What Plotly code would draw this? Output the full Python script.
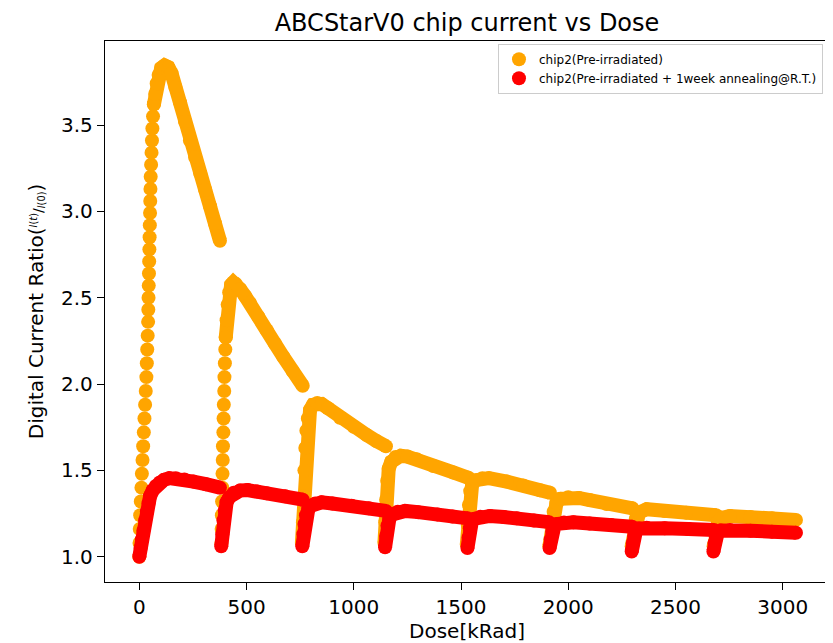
import plotly.graph_objects as go

# ---------------- data ----------------
# Discrete, visibly separated dots of the two first steep orange rises
orange_rise_dose = [0, 1, 2, 4, 7, 10, 12, 15, 18, 21, 24, 27, 30, 33, 35, 37, 39, 41, 42, 43, 44,
                    45, 46, 47, 48, 49, 50, 51, 52, 53, 55, 57, 59, 61, 64, 68,
                    None,
                    383, 384, 385, 386, 387, 388, 389, 390, 392, 393, 394, 396, 397, 399, 401, 403]
orange_rise_ratio = [1.00, 1.08, 1.16, 1.24, 1.32, 1.40, 1.48, 1.56, 1.64, 1.72, 1.80, 1.88, 1.96, 2.04,
                     2.12, 2.20, 2.28, 2.36, 2.43, 2.50, 2.57, 2.64, 2.71, 2.78, 2.85, 2.92, 2.99, 3.06,
                     3.13, 3.20, 3.27, 3.34, 3.41, 3.48, 3.55, 3.62,
                     None,
                     1.08, 1.16, 1.24, 1.32, 1.40, 1.48, 1.56, 1.64, 1.72, 1.80, 1.88, 1.96, 2.04, 2.12,
                     2.20, 2.27]

# chip2 (Pre-irradiated): dense parts of each irradiation step (None separates steps)
orange_dose = [68, 74, 81, 90, 102, 118, 135, 150, 168, 190, 213, 236, 260, 284, 307, 330, 353, 376,
               None,
               403, 407, 412, 419, 428, 438, 450, 470, 493, 516, 555, 594, 632, 671, 715, 762,
               None,
               758, 763, 767, 770, 774, 779, 786, 796, 810, 830, 850, 880, 936, 1000, 1060, 1105, 1150,
               None,
               1143, 1147, 1151, 1156, 1163, 1175, 1195, 1220, 1250, 1293, 1371, 1464, 1535,
               None,
               1527, 1532, 1537, 1543, 1552, 1570, 1600, 1630, 1713, 1790, 1868, 1915,
               None,
               1912, 1922, 1932, 1945, 1965, 2000, 2050, 2100, 2179, 2300,
               None,
               2296, 2305, 2315, 2330, 2366, 2450, 2550, 2690,
               None,
               2678, 2688, 2698, 2715, 2754, 2850, 2950, 3062]
orange_ratio = [3.62, 3.68, 3.74, 3.79, 3.83, 3.845, 3.835, 3.80, 3.72, 3.63, 3.52, 3.41, 3.315, 3.22,
                3.125, 3.03, 2.93, 2.83,
                None,
                2.27, 2.37, 2.46, 2.53, 2.575, 2.588, 2.58, 2.55, 2.51, 2.47, 2.39, 2.312, 2.235, 2.158,
                2.075, 1.99,
                None,
                1.08, 1.20, 1.35, 1.50, 1.63, 1.73, 1.80, 1.85, 1.88, 1.89, 1.885, 1.86, 1.805, 1.752,
                1.705, 1.67, 1.64,
                None,
                1.08, 1.20, 1.33, 1.44, 1.51, 1.55, 1.578, 1.585, 1.58, 1.565, 1.525, 1.488, 1.457,
                None,
                1.07, 1.18, 1.30, 1.38, 1.42, 1.443, 1.455, 1.455, 1.435, 1.413, 1.385, 1.37,
                None,
                1.06, 1.17, 1.26, 1.31, 1.335, 1.345, 1.34, 1.328, 1.305, 1.28,
                None,
                1.06, 1.15, 1.22, 1.255, 1.275, 1.265, 1.255, 1.24,
                None,
                1.06, 1.14, 1.20, 1.225, 1.236, 1.23, 1.222, 1.213]

# chip2 (Pre-irradiated + 1week annealing@R.T.)
red_dose = [0, 6, 12, 19, 27, 35, 43, 50, 63, 77, 95, 115, 140, 170, 210, 252, 310, 376,
            None,
            382, 387, 392, 398, 407, 420, 440, 470, 505, 550, 594, 680, 762,
            None,
            760, 765, 770, 777, 788, 800, 820, 850, 900, 990, 1070, 1150,
            None,
            1146, 1151, 1157, 1166, 1180, 1205, 1240, 1300, 1390, 1460, 1530,
            None,
            1530, 1535, 1541, 1550, 1565, 1590, 1635, 1700, 1760, 1840, 1910,
            None,
            1913, 1918, 1925, 1935, 1950, 1980, 2024, 2100, 2200, 2298,
            None,
            2296, 2301, 2307, 2316, 2330, 2366, 2450, 2560, 2680,
            None,
            2677, 2682, 2688, 2697, 2712, 2754, 2850, 2950, 3062]
red_ratio = [1.00, 1.05, 1.10, 1.15, 1.21, 1.26, 1.31, 1.35, 1.385, 1.41, 1.43, 1.445, 1.455, 1.455,
             1.447, 1.435, 1.42, 1.40,
             None,
             1.06, 1.13, 1.21, 1.27, 1.315, 1.345, 1.37, 1.383, 1.386, 1.378, 1.367, 1.35, 1.33,
             None,
             1.06, 1.13, 1.19, 1.24, 1.275, 1.295, 1.308, 1.315, 1.308, 1.295, 1.28, 1.265,
             None,
             1.055, 1.12, 1.18, 1.22, 1.245, 1.26, 1.265, 1.258, 1.245, 1.233, 1.222,
             None,
             1.05, 1.11, 1.165, 1.20, 1.22, 1.232, 1.236, 1.23, 1.222, 1.21, 1.20,
             None,
             1.05, 1.10, 1.145, 1.175, 1.19, 1.198, 1.20, 1.192, 1.183, 1.174,
             None,
             1.03, 1.08, 1.12, 1.15, 1.163, 1.168, 1.165, 1.16, 1.155,
             None,
             1.03, 1.08, 1.115, 1.14, 1.152, 1.155, 1.15, 1.145, 1.139]

x_ticks = [0, 500, 1000, 1500, 2000, 2500, 3000]
y_ticks = [1.0, 1.5, 2.0, 2.5, 3.0, 3.5]
y_tick_labels = ["1.0", "1.5", "2.0", "2.5", "3.0", "3.5"]

name_orange = "chip2(Pre-irradiated)"
name_red = "chip2(Pre-irradiated + 1week annealing@R.T.)"

ORANGE = "#FFA500"
RED = "#FF0000"
MS = 14
FONT = "DejaVu Sans"

fig = go.Figure()

# orange: continuous band + all points
fig.add_trace(go.Scatter(x=orange_dose, y=orange_ratio, mode="lines",
                         line=dict(color=ORANGE, width=MS), showlegend=False,
                         hoverinfo="skip", legendgroup="o"))
fig.add_trace(go.Scatter(x=orange_rise_dose + [None] + orange_dose,
                         y=orange_rise_ratio + [None] + orange_ratio,
                         mode="markers", name=name_orange, legendgroup="o",
                         marker=dict(color=ORANGE, size=MS, line=dict(width=0))))
# red
fig.add_trace(go.Scatter(x=red_dose, y=red_ratio, mode="lines",
                         line=dict(color=RED, width=MS), showlegend=False,
                         hoverinfo="skip", legendgroup="r"))
fig.add_trace(go.Scatter(x=red_dose, y=red_ratio, mode="markers", name=name_red,
                         legendgroup="r",
                         marker=dict(color=RED, size=MS, line=dict(width=0))))

axis_common = dict(showgrid=False, zeroline=False, showline=True, linecolor="black",
                   linewidth=1.3, mirror=True, ticks="outside", ticklen=7, tickwidth=1.3,
                   tickcolor="black", tickfont=dict(family=FONT, size=20, color="black"))

# the page body has an 8px margin, so the figure is made 8px smaller and the
# left/top margins are reduced by 8px to keep the plot area where the reference has it
fig.update_layout(
    width=825, height=635,
    margin=dict(l=97, r=4, t=33, b=61),
    paper_bgcolor="white", plot_bgcolor="white",
    font=dict(family=FONT, color="black"),
    title=dict(text="ABCStarV0 chip current vs Dose", x=0.5, xref="paper",
               y=0.977, yref="container", yanchor="middle",
               font=dict(family=FONT, size=24, color="black")),
    xaxis=dict(range=[-160, 3216], tickvals=x_ticks,
               title=dict(text="Dose[kRad]", standoff=6,
                          font=dict(family=FONT, size=20, color="black")),
               **axis_common),
    yaxis=dict(range=[0.8535, 3.9865], tickvals=y_ticks, ticktext=y_tick_labels,
               title=dict(text="Digital Current Ratio(<span style='font-size:14px'>"
                               "<sup><i>I</i>(<i>t</i>)</sup>/<sub><i>I</i>(0)</sub></span>)",
                          standoff=12,
                          font=dict(family=FONT, size=20, color="black")),
               **axis_common),
    legend=dict(x=0.9917, y=0.995, xanchor="right", yanchor="top",
                bgcolor="white", bordercolor="#cccccc", borderwidth=1,
                font=dict(family=FONT, size=12, color="black"),
                itemsizing="trace", tracegroupgap=0),
    showlegend=True,
)

fig.write_html("out.html")
